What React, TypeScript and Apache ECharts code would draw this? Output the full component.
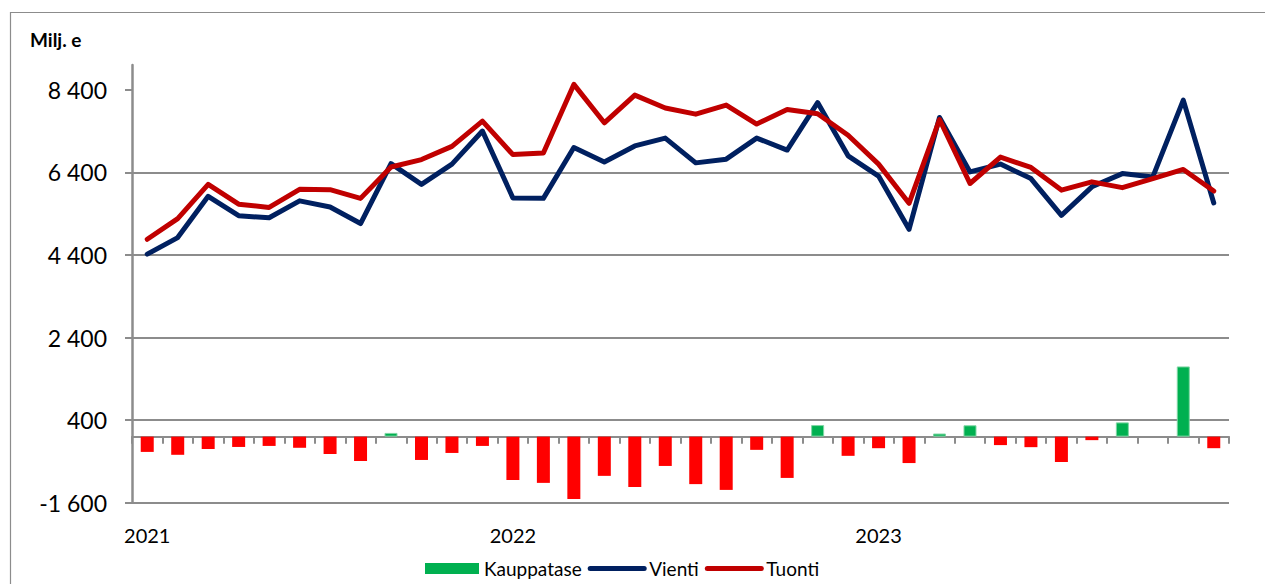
import React, { useEffect, useRef } from "react";
import * as echarts from "echarts";

const months: string[] = [
  "2021-01", "2021-02", "2021-03", "2021-04", "2021-05", "2021-06",
  "2021-07", "2021-08", "2021-09", "2021-10", "2021-11", "2021-12",
  "2022-01", "2022-02", "2022-03", "2022-04", "2022-05", "2022-06",
  "2022-07", "2022-08", "2022-09", "2022-10", "2022-11", "2022-12",
  "2023-01", "2023-02", "2023-03", "2023-04", "2023-05", "2023-06",
  "2023-07", "2023-08", "2023-09", "2023-10", "2023-11", "2023-12",
];

const yearLabels: Record<string, string> = {
  "2021-01": "2021",
  "2022-01": "2022",
  "2023-01": "2023",
};

const yTicks: number[] = [-1600, 400, 2400, 4400, 6400, 8400];

const kauppatase: number[] = [
  -370, -440, -300, -250, -225, -270, -420, -590, 90, -565, -395, -225,
  -1050, -1120, -1510, -950, -1220, -710, -1150, -1290, -320, -1000, 280, -465,
  -280, -640, 75, 275, -205, -255, -615, -85, 345, 0, 1700, -280,
];

const vienti: number[] = [
  4420, 4820, 5820, 5350, 5300, 5710, 5560, 5160, 6610, 6110, 6600, 7400,
  5780, 5770, 7000, 6650, 7040, 7230, 6630, 6720, 7230, 6940, 8090, 6800,
  6310, 5020, 7730, 6410, 6600, 6250, 5360, 6050, 6370, 6290, 8150, 5660,
];

const tuonti: number[] = [
  4780, 5280, 6110, 5630, 5550, 5990, 5980, 5770, 6530, 6710, 7030, 7640,
  6830, 6870, 8530, 7600, 8270, 7960, 7810, 8030, 7570, 7920, 7820, 7300,
  6600, 5650, 7680, 6130, 6770, 6520, 5970, 6170, 6030, 6250, 6470, 5950,
];

const FONT = "Lato";
const GRAY = "#8c8c8c";
const GREEN = "#00B050";
const RED_BAR = "#FF0000";
const NAVY = "#002060";
const RED_LINE = "#C00000";

function fmt(v: number): string {
  const sign = v < 0 ? "-" : "";
  const s = String(Math.abs(Math.round(v)));
  const parts: string[] = [];
  for (let i = s.length; i > 0; i -= 3) {
    parts.unshift(s.slice(Math.max(0, i - 3), i));
  }
  return sign + parts.join(" ");
}

export default function App() {
  const ref = useRef<HTMLDivElement>(null);

  useEffect(() => {
    if (!ref.current) return;
    const chart = echarts.init(ref.current, null, { renderer: "svg" });
    const option: any = {
      animation: false,
      backgroundColor: "#ffffff",
      textStyle: { fontFamily: FONT },
      title: {
        text: "Milj. e",
        left: 30,
        top: 30,
        padding: 0,
        textStyle: { fontSize: 19, fontWeight: "bold", color: "#000", fontFamily: FONT },
      },
      graphic: [
        {
          type: "rect",
          silent: true,
          shape: { x: 10.5, y: 12.5, width: 1300, height: 700 },
          style: { fill: "none", stroke: GRAY, lineWidth: 1.2 },
        },
      ],
      legend: {
        left: 425,
        top: 559,
        padding: 0,
        itemWidth: 54,
        itemHeight: 11,
        itemGap: 6,
        textStyle: { fontSize: 19, color: "#000", fontFamily: FONT },
        data: [
          { name: "Kauppatase", icon: "rect", itemStyle: { color: GREEN, borderWidth: 0 } },
          {
            name: "Vienti",
            itemStyle: { opacity: 0 },
            lineStyle: { width: 5, color: NAVY, cap: "round" },
          },
          {
            name: "Tuonti",
            itemStyle: { opacity: 0 },
            lineStyle: { width: 5, color: RED_LINE, cap: "round" },
          },
        ],
      },
      grid: { left: 132, right: 36, top: 65, bottom: 81.3, containLabel: false },
      xAxis: [
        {
          type: "category",
          data: months,
          position: "bottom",
          axisLine: { show: false, onZero: false },
          axisTick: { show: false },
          splitLine: { show: false },
          axisLabel: {
            interval: 0,
            margin: 22,
            fontSize: 20,
            color: "#000",
            fontFamily: FONT,
            formatter: (v: string) => yearLabels[v] || "",
          },
        },
        {
          type: "category",
          data: months,
          position: "bottom",
          axisLine: { show: true, onZero: true, lineStyle: { color: GRAY, width: 2.2 } },
          axisTick: { show: true, interval: 0, length: 7, lineStyle: { color: GRAY, width: 2 } },
          axisLabel: { show: false },
          splitLine: { show: false },
        },
      ],
      yAxis: {
        type: "value",
        min: -1600,
        max: 9000,
        interval: 2000,
        axisLine: { show: true, lineStyle: { color: GRAY, width: 2.5 } },
        axisTick: {
          show: true,
          length: 7,
          customValues: yTicks,
          lineStyle: { color: GRAY, width: 2 },
        },
        axisLabel: {
          customValues: yTicks,
          margin: 25,
          fontSize: 23,
          color: "#000",
          fontFamily: FONT,
          formatter: (v: number) => fmt(v),
        },
        splitLine: {
          show: true,
          showMaxLine: false,
          lineStyle: { color: GRAY, width: 2 },
        },
      },
      series: [
        {
          name: "Kauppatase",
          type: "bar",
          barWidth: 13,
          itemStyle: { color: GREEN },
          data: kauppatase.map((v) => ({
            value: v,
            itemStyle:
              v < 0
                ? { color: RED_BAR }
                : { color: GREEN, borderColor: "#7fd6a4", borderWidth: v === 0 ? 0 : 1 },
          })),
        },
        {
          name: "Vienti",
          type: "line",
          data: vienti,
          symbol: "none",
          lineStyle: { color: NAVY, width: 5, cap: "round", join: "round" },
          itemStyle: { color: NAVY },
        },
        {
          name: "Tuonti",
          type: "line",
          data: tuonti,
          symbol: "none",
          lineStyle: { color: RED_LINE, width: 5, cap: "round", join: "round" },
          itemStyle: { color: RED_LINE },
        },
      ],
    };
    chart.setOption(option);
    return () => {
      chart.dispose();
    };
  }, []);

  return (
    <div
      ref={ref}
      style={{ position: "fixed", left: 0, top: 0, width: 1265, height: 584 }}
    />
  );
}
